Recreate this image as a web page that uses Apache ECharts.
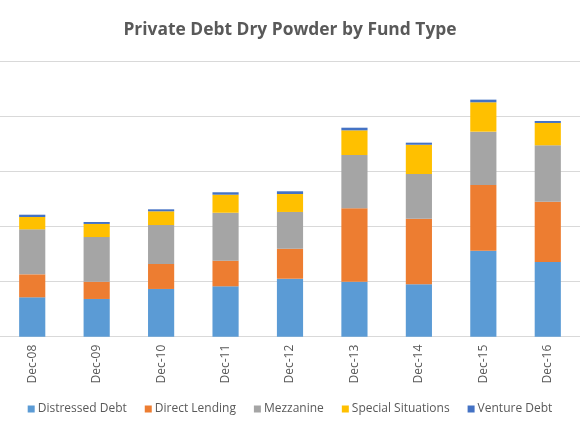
<!DOCTYPE html>
<html>
<head>
<meta charset="utf-8">
<script src="https://cdn.jsdelivr.net/npm/echarts@6/dist/echarts.min.js"></script>
<style>
  html, body { margin: 0; padding: 0; background: #fff; }
  #main { width: 580px; height: 435px; }
</style>
</head>
<body>
<div id="main"></div>
<script>
var years = ["Dec-08", "Dec-09", "Dec-10", "Dec-11", "Dec-12", "Dec-13", "Dec-14", "Dec-15", "Dec-16"];
var distressed = [35.8, 34.3, 43.4, 45.8, 52.7, 50.0, 47.6, 78.2, 67.9];
var directLending = [20.9, 15.7, 22.7, 23.3, 27.3, 66.7, 59.7, 59.7, 54.8];
var mezzanine = [40.9, 40.6, 35.4, 43.6, 33.4, 48.5, 40.6, 48.5, 51.3];
var specialSit = [11.2, 11.9, 12.5, 16.4, 16.3, 22.4, 26.6, 26.7, 20.3];
var ventureDebt = [2.1, 1.8, 1.8, 2.2, 2.5, 2.4, 1.9, 2.4, 1.8];

var chartDom = document.getElementById("main");
var myChart = echarts.init(chartDom);
var option;

function bar(name, data, color) {
  return {
    name: name,
    type: "bar",
    stack: "total",
    barWidth: "40.6%",
    itemStyle: { color: color },
    data: data
  };
}

option = {
  animation: false,
  textStyle: { fontFamily: "Open Sans" },
  title: {
    text: "Private Debt Dry Powder by Fund Type",
    left: "center",
    top: 17,
    textStyle: { fontSize: 17.4, fontWeight: "bold", color: "#595959", fontFamily: "Open Sans" }
  },
  grid: {
    left: -10,
    right: -2,
    top: 61.7,
    height: 275,
    containLabel: false
  },
  legend: {
    bottom: 15,
    left: "center",
    itemWidth: 7,
    itemHeight: 7,
    itemGap: 18,
    icon: "rect",
    textStyle: { fontSize: 12, color: "#595959", padding: [0, 0, 0, -2] },
    data: ["Distressed Debt", "Direct Lending", "Mezzanine", "Special Situations", "Venture Debt"]
  },
  xAxis: {
    type: "category",
    data: years,
    axisTick: { show: false },
    axisLine: { lineStyle: { color: "#d9d9d9" } },
    axisLabel: { rotate: 90, fontSize: 12, color: "#595959", margin: 8 }
  },
  yAxis: {
    type: "value",
    min: 0,
    max: 250,
    interval: 50,
    axisLabel: { show: false },
    axisLine: { show: false },
    axisTick: { show: false },
    splitLine: { lineStyle: { color: "#d9d9d9", width: 1 } }
  },
  series: [
    bar("Distressed Debt", distressed, "#5B9BD5"),
    bar("Direct Lending", directLending, "#ED7D31"),
    bar("Mezzanine", mezzanine, "#A5A5A5"),
    bar("Special Situations", specialSit, "#FFC000"),
    bar("Venture Debt", ventureDebt, "#4472C4")
  ]
};

option && myChart.setOption(option, true);
</script>
</body>
</html>
